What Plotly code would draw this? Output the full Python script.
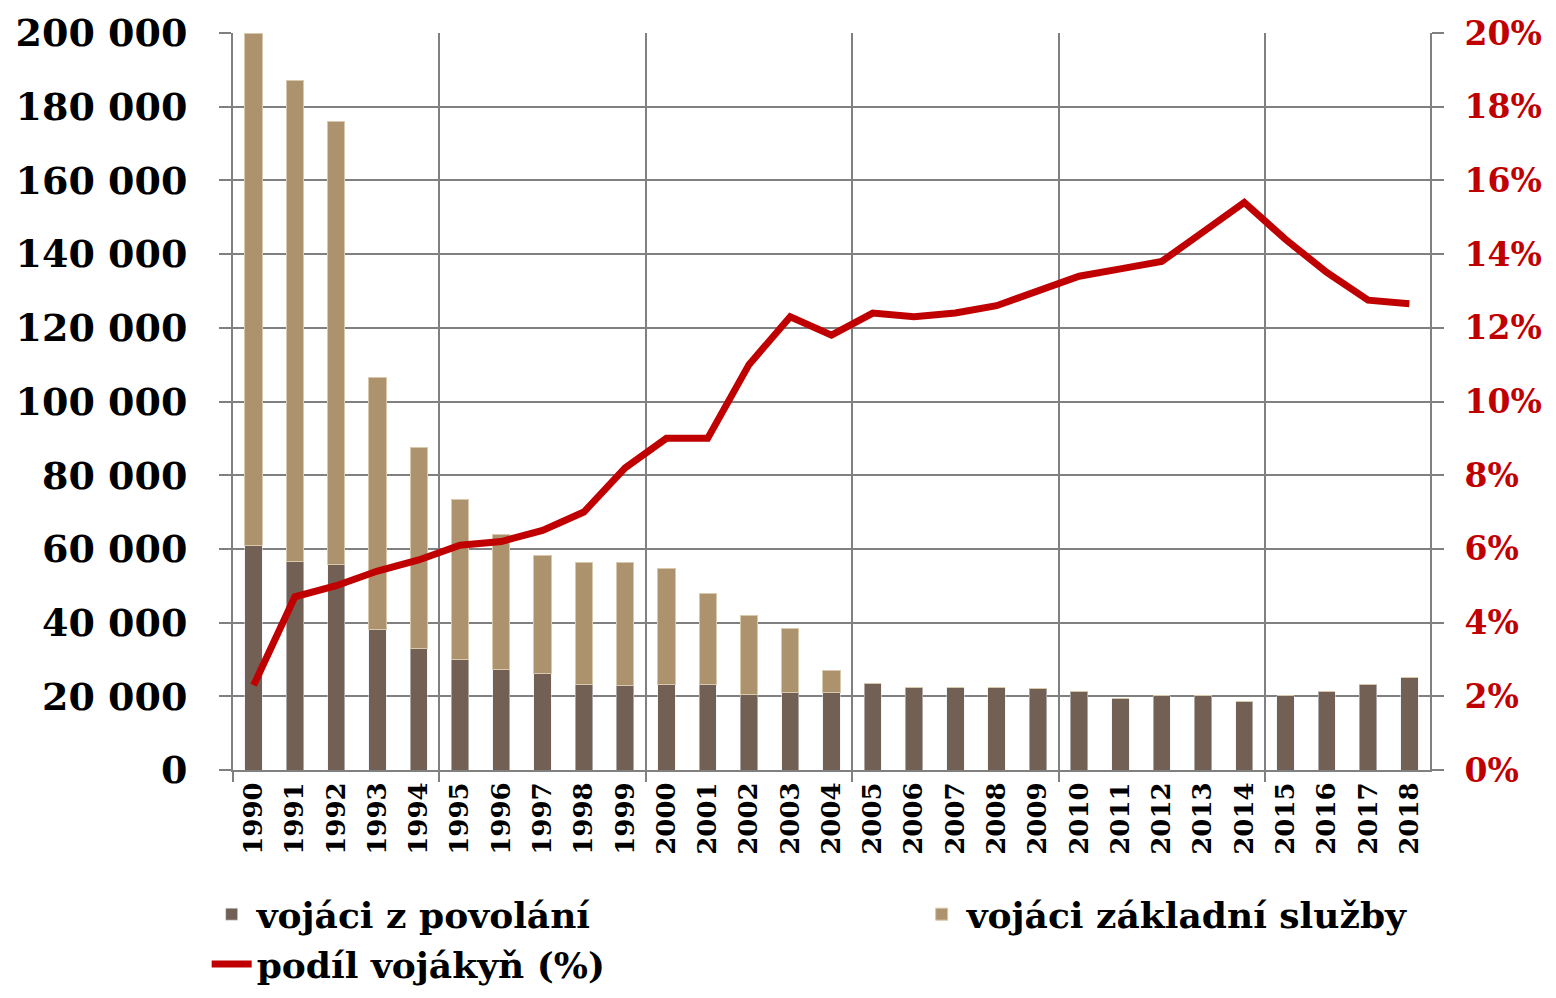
import plotly.graph_objects as go
from plotly.subplots import make_subplots

years = list(range(1990, 2019))

# vojáci z povolání (profesionálové)
povolani = [61000, 56700, 55900, 38000, 33100, 30100, 27400, 26100, 23300, 22800,
            23300, 23100, 20600, 20900, 20900, 23600, 22500, 22500, 22300, 22000,
            21400, 19300, 20100, 20100, 18700, 20100, 21200, 23100, 25000]

# celkový počet (povolání + základní služba)
celkem = [200000, 187000, 176100, 106600, 87400, 73500, 64000, 58300, 56400, 56200,
          54800, 48000, 41800, 38500, 27100, 23600, 22500, 22500, 22300, 22000,
          21400, 19300, 20100, 20100, 18700, 20100, 21200, 23100, 25000]
zakladni = [c - p for c, p in zip(celkem, povolani)]

# podíl vojákyň (%)
podil = [2.3, 4.7, 5.0, 5.4, 5.7, 6.1, 6.2, 6.5, 7.0, 8.2,
         9.0, 9.0, 11.0, 12.3, 11.8, 12.4, 12.3, 12.4, 12.6, 13.0,
         13.4, 13.6, 13.8, 14.6, 15.4, 14.4, 13.5, 12.75, 12.65]

FONT = "DejaVu Serif"
GRID = "#808080"
DARK = "#726055"
TAN = "#AD936D"
RED = "#C00000"

fig = make_subplots(specs=[[{"secondary_y": True}]])

fig.add_trace(
    go.Bar(x=years, y=povolani, name="vojáci z povolání",
           marker_color=DARK, width=0.42),
    secondary_y=False,
)
fig.add_trace(
    go.Bar(x=years, y=zakladni, name="vojáci základní služby",
           marker_color=TAN, marker_line=dict(color="#D8C8AC", width=1), width=0.42),
    secondary_y=False,
)
fig.add_trace(
    go.Scatter(x=years, y=[v / 100 for v in podil], name="podíl vojákyň (%)",
               mode="lines", line=dict(color=RED, width=7)),
    secondary_y=True,
)

# stránka má okraj 8 px, proto je obrázek o trochu menší
fig.update_layout(
    barmode="stack",
    width=1548, height=982,
    paper_bgcolor="white", plot_bgcolor="white",
    separators=", ",
    font=dict(family=FONT, color="black", weight="bold"),
    margin=dict(l=225, r=126, t=25, b=220, autoexpand=False),
    showlegend=True,
    legend=dict(
        orientation="h", x=-0.022, xanchor="left", y=-0.155, yanchor="top",
        font=dict(family=FONT, size=36, color="black", weight="bold"),
        entrywidth=655, entrywidthmode="pixels",
        itemwidth=40,
        traceorder="normal", tracegroupgap=0,
    ),
)

fig.update_xaxes(
    domain=[0, 1],
    range=[1989.5, 2018.5], automargin=False,
    tickmode="array", tickvals=years, ticktext=[str(y) for y in years],
    tickangle=-90, ticks="",
    tickfont=dict(family=FONT, size=26, color="black", weight="bold"),
    showgrid=False,
    showline=True, linecolor=GRID, linewidth=2,
    minor=dict(tickmode="array", tickvals=[y + 0.5 for y in years[4::5]] + [1989.5],
               showgrid=True, gridcolor=GRID, gridwidth=2,
               ticks="outside", ticklen=10, tickcolor=GRID, tickwidth=2),
)

fig.update_yaxes(
    range=[0, 200000], dtick=20000, tickformat=",d", automargin=False,
    tickfont=dict(family=FONT, size=38, color="black", weight="bold"),
    ticklabelstandoff=24,
    showgrid=True, gridcolor=GRID, gridwidth=2,
    ticks="outside", ticklen=12, tickcolor=GRID, tickwidth=2,
    showline=True, linecolor=GRID, linewidth=2,
    zeroline=False,
    secondary_y=False,
)
fig.update_yaxes(
    range=[0, 0.2], dtick=0.02, tickformat=".0%", automargin=False,
    tickfont=dict(family=FONT, size=33, color=RED, weight="bold"),
    ticklabelstandoff=14,
    showgrid=False,
    ticks="outside", ticklen=12, tickcolor=GRID, tickwidth=2,
    showline=True, linecolor=GRID, linewidth=2,
    zeroline=False,
    secondary_y=True,
)

fig.write_html("out.html")
